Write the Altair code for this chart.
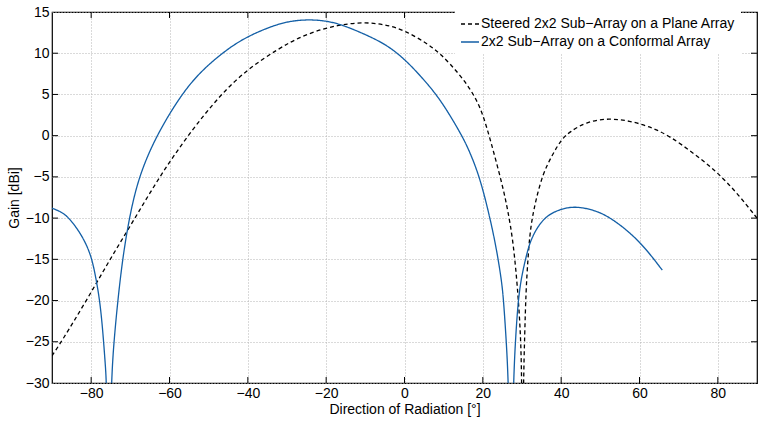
import altair as alt
import pandas as pd

# ---- data ----
conf_x = [-90, -87.8, -85.7, -82.3, -80, -78.9, -78.0, -77.2, -76.3, -76.1, -75.5, -74.9, -74.2,
          -73.2, -72.0, -70.3, -67.9, -63.4, -57.0, -52, -46.6, -41.5, -35, -30, -25, -20, -15.6,
          -9.6, -4.5, 0, 4, 9.1, 14.7, 16.6, 19.2, 21.7, 23.4, 24.8, 25.3, 26.0, 26.55, 27.2,
          27.8, 28.3, 29.0, 29.9, 31.1, 31.9, 33.6, 36.2, 40, 43.8, 48.9, 53.2, 60, 65.8]
conf_y = [-8.8, -9.2, -9.9, -12.1, -14.5, -17.0, -19.4, -22.6, -28.3, -30, -45, -30, -25,
          -20, -15, -10, -5, 0, 5, 7.8, 10, 11.7, 13.1, 13.85, 14.1, 13.95, 13.4,
          12.2, 11.0, 9.3, 7.3, 4.5, 0, -1.9, -5, -9.7, -13.5, -17.6, -20, -25, -30, -45,
          -30, -25, -20, -17, -14.6, -13.1, -11.3, -9.7, -8.86, -8.55, -9.07, -10.1, -12.7, -16.3]

plane_x = [-90, -87.6, -81.2, -75.2, -68.8, -62.6, -55.4, -47, -40, -32, -26.6, -20, -15, -10,
           -5, 0, 5.7, 9.1, 14.4, 18.7, 20.9, 23.0, 25.1, 26.4, 27.7, 28.7, 29.3, 29.7, 29.95,
           30.15, 30.35, 30.7, 31.0, 31.5, 32.0, 32.6, 33.5, 35.3, 37.9, 40, 42.1, 46.4, 52.3,
           57.4, 62.5, 67.6, 74, 79.8, 85, 90]
plane_y = [-26.7, -25, -20, -15, -10, -5, 0, 5, 8.1, 10.6, 12.0, 13.1, 13.55, 13.75,
           13.5, 12.8, 11.2, 10.0, 7.3, 4.3, 1.25, -2.4, -6.2, -9.1, -12.7, -17.6, -21.5, -25, -30,
           -45, -30, -24, -19, -15, -12, -10, -7.9, -4.6, -2.2, -0.5, 0.44, 1.7, 2.12,
           1.8, 1.13, 0, -2.2, -4.4, -7.0, -10]

series_names = ["Steered 2x2 Sub\u2212Array on a Plane Array",
                "2x2 Sub\u2212Array on a Conformal Array"]

x_ticks = [-80, -60, -40, -20, 0, 20, 40, 60, 80]
y_ticks = [-30, -25, -20, -15, -10, -5, 0, 5, 10, 15]
y_inner_ticks = [-25, -20, -15, -10, -5, 0, 5, 10]

df = pd.concat([
    pd.DataFrame({"x": plane_x, "y": plane_y, "s": series_names[0], "o": range(len(plane_x))}),
    pd.DataFrame({"x": conf_x, "y": conf_y, "s": series_names[1], "o": range(len(conf_x))}),
])

W, H = 705, 371
TICK = 6
FONT = "Liberation Sans"
BLUE = "#135fa6"

xscale = alt.Scale(domain=[-90, 90], nice=False, zero=False)
yscale = alt.Scale(domain=[-30, 15], nice=False, zero=False)
xaxis = alt.Axis(values=x_ticks, title="Direction of Radiation [\u00b0]")
yaxis = alt.Axis(values=y_ticks, title="Gain [dBi]")


def leg():
    return alt.Legend(title=None, orient="none", legendX=403, legendY=-3,
                      symbolType="stroke", symbolSize=324, symbolStrokeWidth=1.3,
                      labelFont=FONT, labelFontSize=14, labelColor="black", labelLimit=0,
                      labelOffset=1, rowPadding=1, padding=5, fillColor="white")


lines = alt.Chart(df).mark_line(clip=True, strokeWidth=1.3, interpolate="basis").encode(
    x=alt.X("x:Q", scale=xscale, axis=xaxis),
    y=alt.Y("y:Q", scale=yscale, axis=yaxis),
    color=alt.Color("s:N", scale=alt.Scale(domain=series_names, range=["black", BLUE]),
                    legend=leg()),
    strokeDash=alt.StrokeDash("s:N",
                              scale=alt.Scale(domain=series_names, range=[[4, 3], [1, 0]]),
                              legend=leg()),
    order="o:Q",
)

xt = pd.DataFrame({"x": x_ticks})
yt = pd.DataFrame({"y": y_inner_ticks})

top_ticks = alt.Chart(xt).mark_rule(color="black", strokeWidth=1).encode(
    x=alt.X("x:Q", scale=xscale, axis=xaxis), y=alt.value(0), y2=alt.value(TICK))
bot_ticks = alt.Chart(xt).mark_rule(color="black", strokeWidth=1).encode(
    x=alt.X("x:Q", scale=xscale, axis=xaxis), y=alt.value(H), y2=alt.value(H - TICK))
left_ticks = alt.Chart(yt).mark_rule(color="black", strokeWidth=1).encode(
    y=alt.Y("y:Q", scale=yscale, axis=yaxis), x=alt.value(0), x2=alt.value(TICK))
right_ticks = alt.Chart(yt).mark_rule(color="black", strokeWidth=1).encode(
    y=alt.Y("y:Q", scale=yscale, axis=yaxis), x=alt.value(W), x2=alt.value(W - TICK))

chart = alt.layer(lines, top_ticks, bot_ticks, left_ticks, right_ticks).properties(
    width=W, height=H,
    autosize=alt.AutoSizeParams(type="none"),
    padding={"left": 52, "top": 12, "right": 1, "bottom": 38},
    background="white",
).configure_view(
    stroke="black", strokeWidth=1.2
).configure_axis(
    grid=True, gridDash=[1, 2], gridColor="#b4b4b4", gridWidth=1,
    domain=False, tickSize=0, labelPadding=3, labelFlush=False,
    labelFont=FONT, labelFontSize=14, labelColor="black",
    titleFont=FONT, titleFontSize=14, titleFontWeight="normal", titleColor="black",
).configure_axisY(titlePadding=4).configure_axisX(titlePadding=2)

chart.save("out.html", embed_options={"renderer": "svg", "actions": False})
